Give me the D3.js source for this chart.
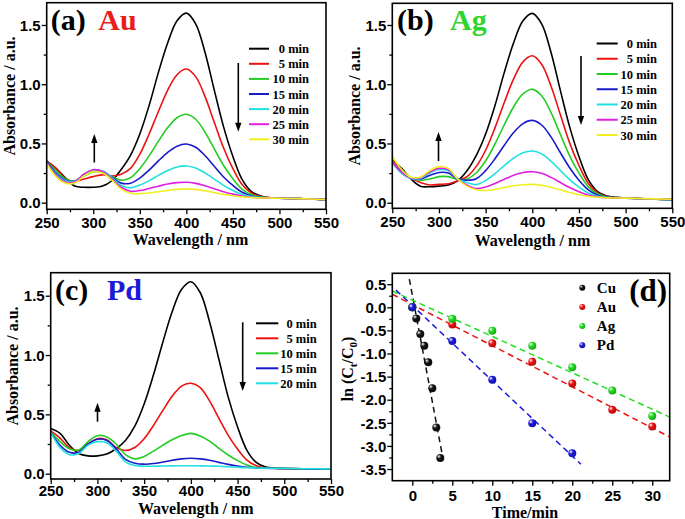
<!DOCTYPE html>
<html>
<head>
<meta charset="utf-8">
<script src="https://cdn.jsdelivr.net/npm/d3@7"></script>
<style>
  body { margin: 0; background: #fff; }
  svg { display: block; font-family: "Liberation Serif", "Times New Roman", serif; font-weight: bold; }
</style>
</head>
<body>
<svg id="chart" width="685" height="519"></svg>
<script>
// ---------------------------------------------------------------
// Données

const wavelengths = [250, 260, 270, 280, 290, 300, 310, 320, 330, 340, 350, 360, 370, 380, 390, 400, 410, 420, 430, 440, 450, 460, 470, 480, 490, 500, 520, 550];

const auSpectra = [
  [0.35, 0.29, 0.21, 0.14, 0.13, 0.13, 0.14, 0.185, 0.28, 0.40, 0.58, 0.82, 1.10, 1.35, 1.535, 1.60, 1.51, 1.27, 0.95, 0.64, 0.39, 0.195, 0.094, 0.056, 0.042, 0.04, 0.034, 0.026],
  [0.35, 0.29, 0.205, 0.18, 0.20, 0.22, 0.235, 0.225, 0.24, 0.29, 0.408, 0.58, 0.77, 0.95, 1.08, 1.128, 1.064, 0.897, 0.678, 0.462, 0.288, 0.151, 0.08, 0.051, 0.042, 0.038, 0.034, 0.026],
  [0.35, 0.27, 0.20, 0.18, 0.225, 0.26, 0.26, 0.22, 0.19, 0.21, 0.287, 0.395, 0.519, 0.634, 0.717, 0.746, 0.704, 0.596, 0.454, 0.314, 0.202, 0.113, 0.066, 0.047, 0.041, 0.038, 0.034, 0.026],
  [0.35, 0.25, 0.19, 0.18, 0.235, 0.272, 0.265, 0.215, 0.165, 0.164, 0.207, 0.275, 0.353, 0.425, 0.477, 0.495, 0.468, 0.398, 0.307, 0.217, 0.145, 0.088, 0.057, 0.044, 0.04, 0.038, 0.034, 0.026],
  [0.34, 0.24, 0.185, 0.18, 0.24, 0.275, 0.265, 0.21, 0.145, 0.125, 0.149, 0.186, 0.23, 0.271, 0.301, 0.31, 0.293, 0.252, 0.199, 0.146, 0.103, 0.069, 0.051, 0.043, 0.04, 0.038, 0.034, 0.026],
  [0.34, 0.23, 0.175, 0.175, 0.24, 0.278, 0.262, 0.20, 0.13, 0.097, 0.102, 0.12, 0.139, 0.157, 0.169, 0.172, 0.163, 0.143, 0.118, 0.093, 0.072, 0.056, 0.046, 0.041, 0.04, 0.038, 0.034, 0.026],
  [0.33, 0.22, 0.165, 0.165, 0.225, 0.262, 0.25, 0.19, 0.115, 0.08, 0.076, 0.082, 0.092, 0.103, 0.112, 0.116, 0.112, 0.10, 0.085, 0.07, 0.058, 0.05, 0.044, 0.04, 0.039, 0.037, 0.034, 0.027]
];

const agSpectra = [
  [0.36, 0.29, 0.20, 0.14, 0.135, 0.14, 0.15, 0.185, 0.27, 0.40, 0.58, 0.82, 1.10, 1.35, 1.535, 1.598, 1.51, 1.27, 0.95, 0.64, 0.39, 0.195, 0.094, 0.056, 0.045, 0.04, 0.033, 0.026],
  [0.36, 0.27, 0.21, 0.17, 0.15, 0.155, 0.16, 0.185, 0.22, 0.307, 0.443, 0.632, 0.846, 1.045, 1.189, 1.24, 1.169, 0.985, 0.744, 0.505, 0.314, 0.162, 0.083, 0.052, 0.043, 0.04, 0.033, 0.026],
  [0.35, 0.26, 0.21, 0.19, 0.20, 0.22, 0.22, 0.195, 0.20, 0.253, 0.354, 0.496, 0.658, 0.81, 0.918, 0.957, 0.903, 0.762, 0.578, 0.396, 0.25, 0.134, 0.074, 0.049, 0.043, 0.04, 0.033, 0.026],
  [0.34, 0.25, 0.205, 0.20, 0.23, 0.255, 0.25, 0.20, 0.19, 0.203, 0.271, 0.371, 0.485, 0.592, 0.668, 0.695, 0.656, 0.556, 0.424, 0.295, 0.19, 0.108, 0.064, 0.046, 0.042, 0.039, 0.033, 0.026],
  [0.34, 0.25, 0.205, 0.205, 0.25, 0.28, 0.27, 0.20, 0.17, 0.153, 0.188, 0.246, 0.314, 0.376, 0.421, 0.436, 0.412, 0.351, 0.273, 0.195, 0.132, 0.082, 0.055, 0.044, 0.041, 0.039, 0.033, 0.026],
  [0.35, 0.26, 0.21, 0.21, 0.26, 0.29, 0.28, 0.20, 0.15, 0.12, 0.133, 0.163, 0.198, 0.231, 0.255, 0.262, 0.248, 0.214, 0.171, 0.128, 0.093, 0.065, 0.049, 0.042, 0.041, 0.039, 0.034, 0.028],
  [0.39, 0.28, 0.215, 0.215, 0.27, 0.305, 0.29, 0.20, 0.14, 0.11, 0.103, 0.112, 0.128, 0.143, 0.152, 0.155, 0.148, 0.131, 0.109, 0.087, 0.069, 0.054, 0.046, 0.041, 0.04, 0.039, 0.035, 0.03]
];

const pdSpectra = [
  [0.38, 0.34, 0.24, 0.17, 0.15, 0.15, 0.165, 0.21, 0.28, 0.40, 0.587, 0.833, 1.108, 1.365, 1.552, 1.618, 1.527, 1.281, 0.964, 0.645, 0.394, 0.197, 0.095, 0.056, 0.046, 0.044, 0.042, 0.04],
  [0.36, 0.30, 0.22, 0.195, 0.25, 0.295, 0.285, 0.22, 0.195, 0.22, 0.294, 0.406, 0.533, 0.652, 0.738, 0.762, 0.725, 0.613, 0.467, 0.323, 0.207, 0.115, 0.067, 0.048, 0.045, 0.044, 0.042, 0.04],
  [0.35, 0.27, 0.21, 0.20, 0.27, 0.32, 0.31, 0.25, 0.16, 0.125, 0.145, 0.19, 0.24, 0.286, 0.321, 0.34, 0.318, 0.274, 0.214, 0.157, 0.11, 0.073, 0.052, 0.046, 0.045, 0.044, 0.042, 0.04],
  [0.35, 0.24, 0.18, 0.18, 0.25, 0.29, 0.28, 0.21, 0.12, 0.088, 0.08, 0.085, 0.098, 0.113, 0.125, 0.13, 0.125, 0.113, 0.095, 0.078, 0.064, 0.054, 0.048, 0.045, 0.044, 0.043, 0.041, 0.039],
  [0.35, 0.22, 0.16, 0.17, 0.24, 0.27, 0.26, 0.19, 0.10, 0.068, 0.063, 0.063, 0.064, 0.066, 0.067, 0.067, 0.066, 0.064, 0.062, 0.058, 0.054, 0.05, 0.048, 0.046, 0.045, 0.045, 0.042, 0.04]
];

const timeLabels = ["0 min", "5 min", "10 min", "15 min", "20 min", "25 min", "30 min"];

// Cinétique ln(Ct/C0)
const kinNames = ["Cu", "Au", "Ag", "Pd"];
const timeCu = [0, 0.5, 1, 1.5, 2, 2.5, 3, 3.5];
const lnCu = [0, -0.24, -0.58, -0.83, -1.19, -1.75, -2.6, -3.26];
const timeAuAg = [0, 5, 10, 15, 20, 25, 30];
const lnAu = [0, -0.37, -0.78, -1.18, -1.65, -2.22, -2.58];
const lnAg = [0, -0.25, -0.51, -0.83, -1.30, -1.80, -2.35];
const timePd = [0, 5, 10, 15, 20];
const lnPd = [0, -0.73, -1.57, -2.51, -3.16];
// droites d'ajustement (pente, ordonnée à l'origine, bornes en t)
const fitSlope = [-0.924, -0.0891, -0.0787, -0.163];
const fitIntercept = [0.27, 0.06, 0.156, 0.04];
const fitStart = [-0.37, -2.5, -2.5, -2.04];
const fitEnd = [3.71, 32.2, 32.2, 21.09];

// ---------------------------------------------------------------
// Styles

const curveColors = ["#000000", "#ee1111", "#22cc22", "#1a1acc", "#22e0e0", "#e020e0", "#f0f020"];
const kinColors = ["#111111", "#ee1111", "#22dd22", "#1a1add"];

const svg = d3.select("#chart");
const defs = svg.append("defs");

// ---------------------------------------------------------------
// Fonction commune pour les panneaux de spectres

function spectraPanel(cfg) {
  const x = d3.scaleLinear().domain([250, 550]).range([cfg.left, cfg.right]);
  const y = d3.scaleLinear().domain(cfg.yDomain).range([cfg.bottom, cfg.top]);
  const g = svg.append("g");

  // axe X : majeures + mineures
  g.append("g")
    .attr("transform", `translate(0, ${cfg.bottom})`)
    .call(d3.axisBottom(x).tickValues(d3.range(275, 550, 50)).tickSize(3).tickFormat(""))
    .call(a => a.select(".domain").remove());
  g.append("g")
    .attr("transform", `translate(0, ${cfg.bottom})`)
    .call(d3.axisBottom(x).tickValues(d3.range(250, 551, 50)).tickSize(5))
    .call(a => a.select(".domain").remove())
    .call(a => a.selectAll("text")
      .attr("dy", null)
      .attr("y", cfg.xLabelOffset)
      .attr("font-size", 15)
      .attr("font-family", null)
      .attr("font-weight", "bold"));

  // axe Y
  g.append("g")
    .attr("transform", `translate(${cfg.left}, 0)`)
    .call(d3.axisLeft(y).tickValues([0.25, 0.75, 1.25]).tickSize(3).tickFormat(""))
    .call(a => a.select(".domain").remove());
  g.append("g")
    .attr("transform", `translate(${cfg.left}, 0)`)
    .call(d3.axisLeft(y).tickValues([0, 0.5, 1, 1.5]).tickSize(5).tickFormat(d => d.toFixed(1)))
    .call(a => a.select(".domain").remove())
    .call(a => a.selectAll("text")
      .attr("x", -6)
      .attr("dy", "0.35em")
      .attr("font-size", 15)
      .attr("font-family", null)
      .attr("font-weight", "bold"));
  g.selectAll(".tick line").attr("stroke-width", 1.3);

  // courbes
  const clipId = `clip-${cfg.id}`;
  defs.append("clipPath").attr("id", clipId)
    .append("rect")
    .attr("x", cfg.left).attr("y", cfg.top)
    .attr("width", cfg.right - cfg.left).attr("height", cfg.bottom - cfg.top);

  const line = d3.line()
    .x((d, i) => x(wavelengths[i]))
    .y(d => y(d))
    .curve(d3.curveCatmullRom.alpha(0.5));

  g.append("g")
    .attr("clip-path", `url(#${clipId})`)
    .selectAll("path")
    .data(cfg.spectra)
    .join("path")
    .attr("d", line)
    .attr("fill", "none")
    .attr("stroke", (d, i) => curveColors[i])
    .attr("stroke-width", 1.6);

  // cadre
  g.append("rect")
    .attr("x", cfg.left).attr("y", cfg.top)
    .attr("width", cfg.right - cfg.left).attr("height", cfg.bottom - cfg.top)
    .attr("fill", "none").attr("stroke", "#000").attr("stroke-width", 1.6);

  // titres d'axes
  g.append("text")
    .attr("x", cfg.xTitle[0]).attr("y", cfg.xTitle[1])
    .attr("text-anchor", "middle").attr("font-size", 16)
    .text("Wavelength / nm");
  g.append("text")
    .attr("transform", `translate(${cfg.yTitle[0]}, ${cfg.yTitle[1]}) rotate(-90)`)
    .attr("text-anchor", "middle").attr("font-size", 16)
    .text("Absorbance / a.u.");

  // étiquette du panneau
  g.append("text")
    .attr("x", cfg.tag[0]).attr("y", cfg.tag[1])
    .attr("font-size", 30)
    .text(cfg.tagText);
  g.append("text")
    .attr("x", cfg.elem[0]).attr("y", cfg.tag[1])
    .attr("font-size", 30)
    .attr("fill", cfg.elemColor)
    .text(cfg.elemText);

  // légende
  const leg = g.selectAll(".leg")
    .data(cfg.spectra.map((d, i) => timeLabels[i]))
    .join("g")
    .attr("transform", (d, i) => `translate(0, ${cfg.legend.y0 + i * cfg.legend.step})`);
  leg.append("line")
    .attr("x1", cfg.legend.x0).attr("x2", cfg.legend.x1)
    .attr("stroke", (d, i) => curveColors[i]).attr("stroke-width", 2);
  leg.append("text")
    .attr("x", cfg.legend.textEnd).attr("y", 4.5)
    .attr("text-anchor", "end").attr("font-size", 12.5)
    .text(d => d);

  // flèches
  drawArrow(g, cfg.arrowDown);
  drawArrow(g, cfg.arrowUp);
}

function drawArrow(g, a) {
  const [ax, y0, y1] = a;
  const dir = y1 > y0 ? 1 : -1;
  g.append("line")
    .attr("x1", ax).attr("x2", ax)
    .attr("y1", y0).attr("y2", y1 - dir * 8)
    .attr("stroke", "#000").attr("stroke-width", 1.6);
  g.append("path")
    .attr("d", `M${ax - 3.2},${y1 - dir * 9} L${ax + 3.2},${y1 - dir * 9} L${ax},${y1} Z`)
    .attr("fill", "#000");
}

// ---------------------------------------------------------------
// Panneaux (a), (b), (c)

spectraPanel({
  id: "a", spectra: auSpectra,
  left: 46.7, right: 326, top: 2.7, bottom: 209.3, yDomain: [-0.056, 1.688],
  xLabelOffset: 18.5, xTitle: [190.5, 245], yTitle: [15, 96],
  tag: [50.7, 29.5], tagText: "(a)", elem: [98.3, 0], elemText: "Au", elemColor: "#ea1c1c",
  legend: { x0: 249, x1: 269, textEnd: 309, y0: 48.7, step: 15.1 },
  arrowDown: [238.3, 63, 131.7], arrowUp: [94.3, 162.5, 134]
});

spectraPanel({
  id: "b", spectra: agSpectra,
  left: 392.3, right: 672.3, top: 3.3, bottom: 208.3, yDomain: [-0.047, 1.683],
  xLabelOffset: 18.5, xTitle: [532.5, 245.5], yTitle: [360, 106],
  tag: [397, 29.5], tagText: "(b)", elem: [450, 0], elemText: "Ag", elemColor: "#2ed52e",
  legend: { x0: 596.7, x1: 617.7, textEnd: 657, y0: 43.5, step: 15.25 },
  arrowDown: [581, 56, 125], arrowUp: [438.5, 161, 132]
});

spectraPanel({
  id: "c", spectra: pdSpectra,
  left: 50.7, right: 331, top: 272.7, bottom: 479, yDomain: [-0.045, 1.694],
  xLabelOffset: 16.8, xTitle: [195.7, 513.5], yTitle: [18.3, 366],
  tag: [55, 300], tagText: "(c)", elem: [107, 0], elemText: "Pd", elemColor: "#1a1ad8",
  legend: { x0: 256, x1: 278.3, textEnd: 316.7, y0: 323.3, step: 15 },
  arrowDown: [242.7, 322.3, 391], arrowUp: [97.5, 421.7, 402.7]
});

// ---------------------------------------------------------------
// Panneau (d) : cinétique

{
  const left = 392.3, right = 669.7, top = 273.3, bottom = 480.7;
  const x = d3.scaleLinear().domain([-2.5, 32.18]).range([left, right]);
  const y = d3.scaleLinear().domain([-3.753, 0.736]).range([bottom, top]);
  const g = svg.append("g");

  g.append("g")
    .attr("transform", `translate(0, ${bottom})`)
    .call(d3.axisBottom(x).tickValues(d3.range(2.5, 32, 5)).tickSize(3).tickFormat(""))
    .call(a => a.select(".domain").remove());
  g.append("g")
    .attr("transform", `translate(0, ${bottom})`)
    .call(d3.axisBottom(x).tickValues(d3.range(0, 31, 5)).tickSize(5))
    .call(a => a.select(".domain").remove())
    .call(a => a.selectAll("text")
      .attr("dy", null).attr("y", 20)
      .attr("font-size", 15).attr("font-family", null).attr("font-weight", "bold"));

  g.append("g")
    .attr("transform", `translate(${left}, 0)`)
    .call(d3.axisLeft(y).tickValues(d3.range(-3.25, 0.5, 0.5)).tickSize(3).tickFormat(""))
    .call(a => a.select(".domain").remove());
  g.append("g")
    .attr("transform", `translate(${left}, 0)`)
    .call(d3.axisLeft(y).tickValues(d3.range(-3.5, 0.51, 0.5)).tickSize(5).tickFormat(d => d.toFixed(1)))
    .call(a => a.select(".domain").remove())
    .call(a => a.selectAll("text")
      .attr("x", -6).attr("dy", "0.35em")
      .attr("font-size", 15).attr("font-family", null).attr("font-weight", "bold"));
  g.selectAll(".tick line").attr("stroke-width", 1.3);

  defs.append("clipPath").attr("id", "clip-d")
    .append("rect")
    .attr("x", left).attr("y", top)
    .attr("width", right - left).attr("height", bottom - top);

  // dégradés pour les billes
  kinColors.forEach((c, i) => {
    const grad = defs.append("radialGradient")
      .attr("id", `ball-${i}`)
      .attr("cx", "40%").attr("cy", "40%").attr("r", "60%")
      .attr("fx", "30%").attr("fy", "28%");
    grad.append("stop").attr("offset", "0%").attr("stop-color", "#ffffff");
    grad.append("stop").attr("offset", "45%").attr("stop-color", c);
    grad.append("stop").attr("offset", "100%").attr("stop-color", d3.color(c).darker(0.8));
  });

  // droites d'ajustement
  const fits = kinNames.map((n, i) => [
    [fitStart[i], fitIntercept[i] + fitSlope[i] * fitStart[i]],
    [fitEnd[i], fitIntercept[i] + fitSlope[i] * fitEnd[i]]
  ]);
  g.append("g")
    .attr("clip-path", "url(#clip-d)")
    .selectAll("path")
    .data(fits)
    .join("path")
    .attr("d", d3.line().x(d => x(d[0])).y(d => y(d[1])))
    .attr("fill", "none")
    .attr("stroke", (d, i) => kinColors[i])
    .attr("stroke-width", 1.5)
    .attr("stroke-dasharray", "6,4");

  // points
  const series = [
    timeCu.map((t, i) => [t, lnCu[i]]),
    timeAuAg.map((t, i) => [t, lnAu[i]]),
    timeAuAg.map((t, i) => [t, lnAg[i]]),
    timePd.map((t, i) => [t, lnPd[i]])
  ];
  series.forEach((s, k) => {
    g.append("g")
      .selectAll("circle")
      .data(s)
      .join("circle")
      .attr("cx", d => x(d[0]))
      .attr("cy", d => y(d[1]))
      .attr("r", 4)
      .attr("fill", `url(#ball-${k})`);
  });

  g.append("rect")
    .attr("x", left).attr("y", top)
    .attr("width", right - left).attr("height", bottom - top)
    .attr("fill", "none").attr("stroke", "#000").attr("stroke-width", 1.6);

  // légende
  const leg = g.selectAll(".leg")
    .data(kinNames)
    .join("g")
    .attr("transform", (d, i) => `translate(582.3, ${287.7 + i * 19.2})`);
  leg.append("circle").attr("r", 3).attr("fill", (d, i) => `url(#ball-${i})`);
  leg.append("text").attr("x", 14.5).attr("y", 5).attr("font-size", 15).text(d => d);

  g.append("text").attr("x", 629.3).attr("y", 301).attr("font-size", 31).text("(d)");

  g.append("text")
    .attr("x", 525).attr("y", 517.5)
    .attr("text-anchor", "middle").attr("font-size", 16)
    .text("Time/min");

  const yt = g.append("text")
    .attr("transform", "translate(353, 369) rotate(-90)")
    .attr("text-anchor", "middle").attr("font-size", 16);
  yt.append("tspan").text("ln (C");
  yt.append("tspan").attr("font-size", 11).attr("dy", 4).text("t");
  yt.append("tspan").attr("dy", -4).text("/C");
  yt.append("tspan").attr("font-size", 11).attr("dy", 4).text("0");
  yt.append("tspan").attr("dy", -4).text(")");
}
</script>
</body>
</html>
